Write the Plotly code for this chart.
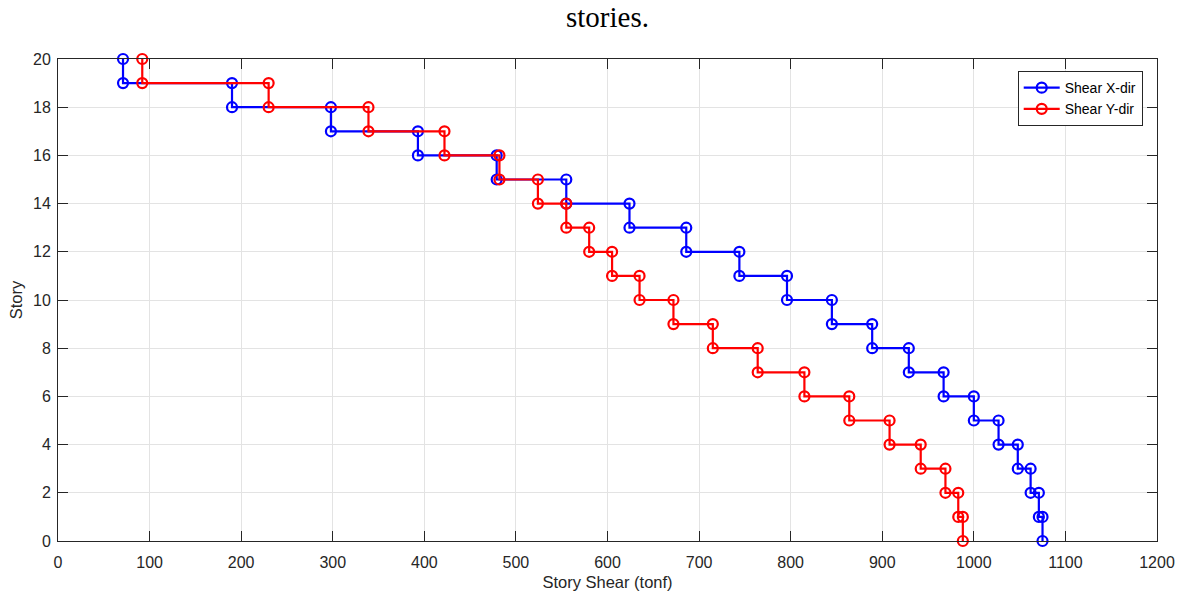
import plotly.graph_objects as go

# Story levels (top to bottom) and story shear in each direction (tonf)
stories = list(range(20, 0, -1))
shear_x = [71, 190, 298, 393, 479, 555, 624, 686, 744, 796,
           845, 889, 929, 967, 1000, 1027, 1048, 1062, 1071, 1075]
shear_y = [92, 230, 339, 422, 482, 524, 555, 580, 605, 635,
           672, 715, 764, 815, 864, 908, 942, 969, 983, 988]

x_ticks = list(range(0, 1201, 100))
y_ticks = list(range(0, 21, 2))

FONT = "Liberation Sans, Arial"
INK = "#262626"


def step_profile(levels, shears):
    """Each story's shear is held constant from its level down to the one below."""
    xs, ys = [], []
    for lvl, v in zip(levels, shears):
        xs += [v, v]
        ys += [lvl, lvl - 1]
    return xs, ys


fig = go.Figure()
for name, vals, color in [("Shear X-dir", shear_x, "#0000ff"),
                          ("Shear Y-dir", shear_y, "#ff0000")]:
    xs, ys = step_profile(stories, vals)
    fig.add_trace(go.Scatter(
        x=xs, y=ys, name=name, mode="lines+markers",
        line=dict(color=color, width=2.2),
        marker=dict(symbol="circle-open", size=10, color=color,
                    line=dict(width=2.2, color=color)),
        cliponaxis=False,
    ))

axis_common = dict(
    showline=True, linecolor=INK, linewidth=1, mirror="ticks",
    ticks="inside", ticklen=10, tickcolor=INK, tickwidth=1,
    showgrid=True, gridcolor="#e3e3e3", gridwidth=1, zeroline=False,
    automargin=False,
    tickfont=dict(family=FONT, size=16, color=INK),
)

fig.update_xaxes(range=[0, 1200], tickvals=x_ticks, ticklabelstandoff=7,
                 title=dict(text="Story Shear (tonf)", standoff=6,
                            font=dict(family=FONT, size=16.5, color=INK)),
                 **axis_common)
fig.update_yaxes(range=[0, 20], tickvals=y_ticks, ticklabelstandoff=3,
                 title=dict(text="Story", standoff=6,
                            font=dict(family=FONT, size=16.5, color=INK)),
                 **axis_common)

fig.add_annotation(text="stories.", xref="paper", yref="paper",
                   x=0.5, y=1, yshift=42, xanchor="center", yanchor="middle",
                   showarrow=False,
                   font=dict(family="Liberation Serif, Times New Roman", size=29, color="black"))

fig.update_layout(
    width=1180, height=598,
    margin=dict(l=58, r=23, t=59, b=57),
    paper_bgcolor="white", plot_bgcolor="white",
    legend=dict(x=0.987, y=0.975, xanchor="right", yanchor="top",
                bgcolor="white", bordercolor=INK, borderwidth=1,
                font=dict(family=FONT, size=14, color="black"),
                tracegroupgap=0, itemwidth=36),
)

fig.write_html("out.html")
